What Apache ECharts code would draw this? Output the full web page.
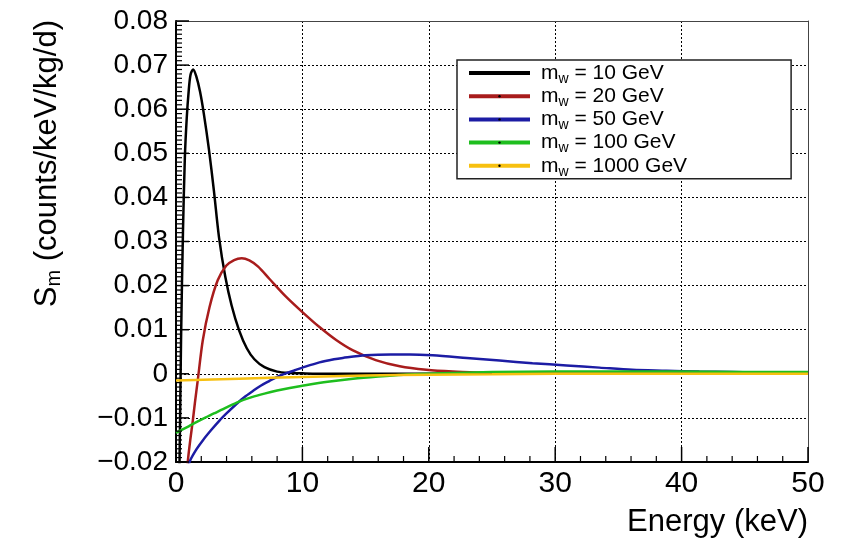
<!DOCTYPE html>
<html>
<head>
<meta charset="utf-8">
<script src="https://cdn.jsdelivr.net/npm/echarts@6.0.0/dist/echarts.min.js"></script>
<style>
  html, body { margin: 0; padding: 0; background: #ffffff; }
  #chart { width: 846px; height: 542px; }
</style>
</head>
<body>
<div id="chart"></div>
<script>
// WIMP masses (GeV) shown in the legend, one curve each
const masses = [10, 20, 50, 100, 1000];
const colors = ['#000000', '#a81c1c', '#1c1ca4', '#1ebe1e', '#f7c010'];

// Modulation amplitude S_m (counts/keV/kg/d) versus energy (keV), pairs [E, S_m]
const sm10 = [
  [0.2, -0.032], [0.28, -0.02], [0.4, 0.008], [0.55, 0.032], [0.7, 0.049], [0.85, 0.058],
  [1.0, 0.064], [1.15, 0.0678], [1.35, 0.069], [1.6, 0.0675], [1.9, 0.064], [2.2, 0.059],
  [2.6, 0.051], [3.0, 0.0415], [3.4, 0.031], [3.9, 0.022], [4.4, 0.0155], [5.0, 0.0098],
  [5.6, 0.0058], [6.2, 0.0033], [7.0, 0.0015], [8.0, 0.0005], [9.0, 0.0002], [10, 0.0001],
  [12, 0], [15, 0], [20, 0], [30, 0], [40, 0], [50, 0]
];
const sm20 = [
  [0.85, -0.024], [0.93, -0.02], [1.13, -0.015], [1.33, -0.0106], [1.5, -0.0065], [1.72, -0.0015],
  [2.12, 0.0076], [2.65, 0.0151], [3.3, 0.0212], [3.97, 0.0245], [4.6, 0.0258], [5.2, 0.0262],
  [5.8, 0.0257], [6.5, 0.0243], [7.4, 0.0215], [8.7, 0.0175], [10.0, 0.014], [11.35, 0.0106],
  [12.7, 0.0076], [14.0, 0.0053], [15.8, 0.0031], [17.7, 0.0017], [19.8, 0.0009], [21.9, 0.0005],
  [24, 0.0003], [27, 0.0001], [30, 0.00005], [35, 0], [40, 0], [45, 0], [50, 0]
];
const sm50 = [
  [1.0, -0.022], [1.07, -0.02], [1.6, -0.0172], [2.12, -0.0151], [2.8, -0.0127], [3.44, -0.0106],
  [4.1, -0.0087], [4.76, -0.0069], [5.4, -0.0053], [6.08, -0.0039], [6.7, -0.0027], [7.4, -0.0016],
  [8.0, -0.0007], [8.7, 0.0001], [9.4, 0.0008], [10.0, 0.0014], [11.35, 0.0026], [12.5, 0.0033],
  [13.2, 0.0036], [15.0, 0.0042], [17.0, 0.0044], [18.5, 0.0044], [20.3, 0.0042], [23.0, 0.0036],
  [25.6, 0.003], [28.2, 0.0024], [30.9, 0.0019], [33.5, 0.0014], [36.1, 0.0009], [38.8, 0.0007],
  [41.4, 0.0005], [44, 0.0004], [47, 0.0003], [50, 0.0003]
];
const sm100 = [
  [0, -0.0134], [1, -0.0119], [2, -0.0104], [3, -0.009], [4, -0.0076], [5, -0.0063],
  [6, -0.0053], [7, -0.0045], [8, -0.0038], [9, -0.0032], [10, -0.0027], [12, -0.0018],
  [14, -0.0011], [16, -0.0006], [18, -0.0002], [20, 0.0], [22, 0.0002], [25, 0.0004],
  [30, 0.0005], [35, 0.0005], [40, 0.0005], [45, 0.0004], [50, 0.0004]
];
const sm1000 = [
  [0, -0.0015], [5, -0.0011], [10, -0.0007], [15, -0.0004], [20, -0.0002], [25, -0.0001],
  [30, 0], [40, 0], [50, 0]
];

const curves = [sm10, sm20, sm50, sm100, sm1000];

// Axis ranges
const X_MIN = 0, X_MAX = 50, X_STEP = 10, X_MINOR = 5;
const Y_MIN = -0.02, Y_MAX = 0.08, Y_STEP = 0.01, Y_MINOR = 10;

const FONT = 'Liberation Sans, Arial, Helvetica, sans-serif';

// Inward tick marks along the bottom and left edges: [value, length, edge(0 = bottom, 1 = left)]
const tickMarks = [];
const nx = Math.round((X_MAX - X_MIN) / X_STEP) * X_MINOR;
for (let i = 0; i <= nx; i++) {
  const v = X_MIN + i * X_STEP / X_MINOR;
  tickMarks.push([+v.toFixed(4), i % X_MINOR === 0 ? 15 : 6, 0]);
}
const ny = Math.round((Y_MAX - Y_MIN) / Y_STEP) * Y_MINOR;
for (let i = 0; i <= ny; i++) {
  const v = Y_MIN + i * Y_STEP / Y_MINOR;
  tickMarks.push([+v.toFixed(5), i % Y_MINOR === 0 ? 13 : 6, 1]);
}

const chart = echarts.init(document.getElementById('chart'), null, { renderer: 'canvas' });

const series = masses.map((m, i) => ({
  name: String(m),
  type: 'line',
  xAxisIndex: 0,
  yAxisIndex: 0,
  data: curves[i],
  smooth: 0.3,
  symbol: 'circle',
  showSymbol: false,
  clip: true,
  lineStyle: { color: colors[i], width: 2.5 },
  itemStyle: { color: colors[i] },
  emphasis: { disabled: true },
  z: 2 + i
}));

series.push({
  name: 'ticks',
  type: 'custom',
  coordinateSystem: 'cartesian2d',
  xAxisIndex: 0,
  yAxisIndex: 0,
  silent: true,
  clip: false,
  z: 8,
  data: tickMarks,
  renderItem: (params, api) => {
    const v = api.value(0);
    const len = api.value(1);
    const edge = api.value(2);
    const style = { stroke: '#000', lineWidth: len > 8 ? 1.5 : 1.2 };
    if (edge === 0) {
      const p = api.coord([v, Y_MIN]);
      return { type: 'line', shape: { x1: p[0], y1: p[1], x2: p[0], y2: p[1] - len }, style: style };
    }
    const p = api.coord([X_MIN, v]);
    return { type: 'line', shape: { x1: p[0], y1: p[1], x2: p[0] + len, y2: p[1] }, style: style };
  }
});

const xRange = { type: 'value', min: X_MIN, max: X_MAX, interval: X_STEP };
const yRange = { type: 'value', min: Y_MIN, max: Y_MAX, interval: Y_STEP };

// Top and right axes only close the frame
const frameAxis = {
  axisLine: { show: true, onZero: false, lineStyle: { color: '#444', width: 1 } },
  axisTick: { show: false },
  minorTick: { show: false },
  axisLabel: { show: false },
  splitLine: { show: false }
};

const option = {
  animation: false,
  backgroundColor: '#ffffff',
  grid: { left: 176, right: 38, top: 21, bottom: 80 },
  xAxis: [
    Object.assign({}, xRange, {
      position: 'bottom',
      axisLine: { show: true, onZero: false, lineStyle: { color: '#000', width: 2 } },
      axisTick: { show: false },
      minorTick: { show: false },
      splitLine: { show: true, lineStyle: { color: '#000', type: [2, 2], width: 1 } },
      axisLabel: { fontSize: 30, color: '#000', margin: 7, fontFamily: FONT }
    }),
    Object.assign({}, xRange, { position: 'top' }, frameAxis)
  ],
  yAxis: [
    Object.assign({}, yRange, {
      position: 'left',
      axisLine: { show: true, onZero: false, lineStyle: { color: '#000', width: 2 } },
      axisTick: { show: false },
      minorTick: { show: false },
      splitLine: { show: true, lineStyle: { color: '#000', type: [2, 2], width: 1 } },
      axisLabel: {
        fontSize: 28, color: '#000', margin: 8, fontFamily: FONT,
        formatter: v => (Math.abs(v) < 1e-9 ? '0' : v.toFixed(2).replace('-', '\u2212'))
      }
    }),
    Object.assign({}, yRange, { position: 'right' }, frameAxis)
  ],
  legend: {
    left: 457, top: 60, orient: 'vertical',
    itemWidth: 61, itemHeight: 3, itemGap: -2.8,
    padding: [0, 104, 0, 10],
    backgroundColor: '#ffffff', borderColor: '#222', borderWidth: 1.5,
    selectedMode: false,
    data: masses.map(String),
    lineStyle: { width: 4 },
    itemStyle: { color: '#000', borderWidth: 0 },
    formatter: name => '{p|m}{b|w}{a| = ' + name + ' GeV}',
    textStyle: {
      color: '#000', fontFamily: FONT, fontSize: 21,
      rich: {
        p: { fontSize: 21, lineHeight: 23.5, fontFamily: FONT, color: '#000', padding: [0, 0, 0, 6] },
        b: { fontSize: 14, lineHeight: 11.5, fontFamily: FONT, color: '#000', padding: [12, 0, 0, 0] },
        a: { fontSize: 21, lineHeight: 23.5, fontFamily: FONT, color: '#000' }
      }
    },
    z: 10
  },
  graphic: [
    {
      type: 'text', x: 47, y: 20, rotation: Math.PI / 2, silent: true,
      style: {
        text: '{s|S}{m|m}{s| (counts/keV/kg/d)}',
        align: 'right', verticalAlign: 'middle', fill: '#000',
        fontFamily: FONT, fontSize: 31,
        rich: {
          s: { fontSize: 31, fontFamily: FONT, fill: '#000' },
          m: { fontSize: 20, fontFamily: FONT, fill: '#000', padding: [14, 0, 0, 0] }
        }
      }
    },
    {
      type: 'text', x: 808, y: 522, silent: true,
      style: {
        text: 'Energy (keV)', align: 'right', verticalAlign: 'middle',
        fill: '#000', fontFamily: FONT, fontSize: 31
      }
    }
  ],
  series: series
};

chart.setOption(option);
</script>
</body>
</html>
